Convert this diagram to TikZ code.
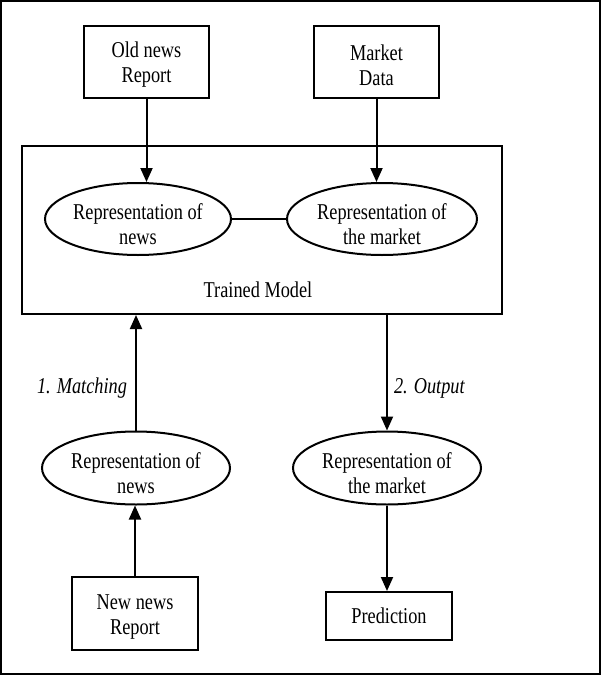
\documentclass[tikz,border=0pt]{standalone}
\usepackage{fontspec}
\setmainfont[FakeStretch=0.81]{Liberation Serif}
\usetikzlibrary{shapes.geometric,arrows.meta}
\begin{document}
\begin{tikzpicture}[x=1pt,y=-1pt,
  every node/.style={font=\fontsize{22.6}{25}\selectfont, align=center},
  every label/.style={inner sep=0pt},
  box/.style={draw, line width=2pt, rectangle, inner sep=0pt},
  oval/.style={draw, line width=2pt, ellipse, inner sep=0pt},
  arr/.style={line width=2pt, -{Triangle[width=12pt,length=14pt]}},
  link/.style={line width=2pt},
  boxtext/.style={label={[yshift=-3pt]center:{#1}}},
  ovaltext/.style={label={[yshift=-5pt]center:{#1}}},
  steplabel/.style={font=\itshape\fontsize{22.6}{25}\selectfont, inner sep=0pt, yshift=-4pt}]
  \useasboundingbox (0,0) rectangle (601,675);
  % outer frame
  \draw[line width=2.2pt] (1.1,1.1) rectangle (599.9,673.9);

  % inputs used for training
  \node[box, minimum width=125pt, minimum height=72pt, boxtext={Old news\\Report}] (old) at (146.5,62) {};
  \node[box, minimum width=125pt, minimum height=72pt, boxtext={Market\\Data}] (mkt) at (376.5,62) {};

  % trained model with its two representations
  \node[box, minimum width=480pt, minimum height=168pt] (model) at (262,230) {};
  \node[inner sep=0pt] (modeltxt) at (258,290) {Trained Model};
  \node[oval, minimum width=186pt, minimum height=72pt, ovaltext={Representation of\\news}] (repnews) at (138,219) {};
  \node[oval, minimum width=190pt, minimum height=72pt, ovaltext={Representation of\\the market}] (repmkt) at (382,219) {};

  % prediction stage
  \node[oval, minimum width=188pt, minimum height=73pt, ovaltext={Representation of\\news}] (newrep) at (136,468) {};
  \node[oval, minimum width=188pt, minimum height=73pt, ovaltext={Representation of\\the market}] (outrep) at (387,468) {};
  \node[box, minimum width=126pt, minimum height=73pt, boxtext={New news\\Report}] (newnews) at (135,613.5) {};
  \node[box, minimum width=126pt, minimum height=48pt] (pred) at (389,616) {Prediction};

  % connectors
  \draw[arr] (old.south) -- (old.south |- repnews.north);
  \draw[arr] (mkt.south) -- (mkt.south |- repmkt.north);
  \draw[link] (repnews.east) -- (repmkt.west);
  \draw[arr] (newrep.north) -- (newrep.north |- model.south)
    node[steplabel, pos=0.4, left=8pt] {1. Matching};
  \draw[arr] (model.south -| outrep.north) -- (outrep.north)
    node[steplabel, pos=0.6, right=6pt] {2. Output};
  \draw[arr] (newnews.north) -- (newnews.north |- newrep.south);
  \draw[arr] (outrep.south) -- (outrep.south |- pred.north);
\end{tikzpicture}
\end{document}
